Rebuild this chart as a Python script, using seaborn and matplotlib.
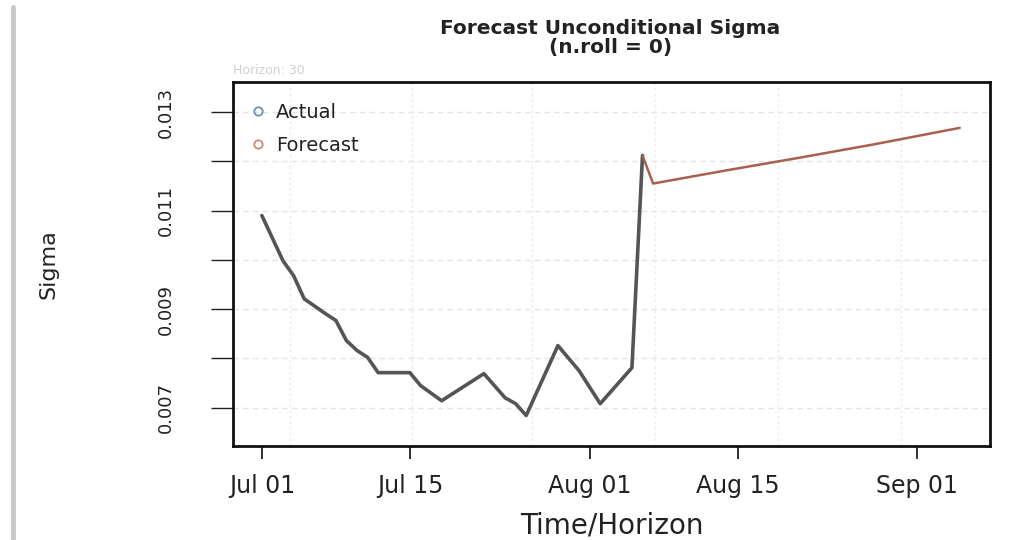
import numpy as np
import pandas as pd
import matplotlib
matplotlib.use("Agg")
import matplotlib.pyplot as plt
import matplotlib.dates as mdates
from matplotlib.lines import Line2D
from matplotlib.ticker import FixedLocator, FuncFormatter
import seaborn as sns

# ========================
# DATA
# ========================
actual_dates = ["2019-07-01", "2019-07-03", "2019-07-04", "2019-07-05", "2019-07-07",
                "2019-07-08", "2019-07-09", "2019-07-10", "2019-07-11", "2019-07-12",
                "2019-07-15", "2019-07-16", "2019-07-18", "2019-07-22", "2019-07-24",
                "2019-07-25", "2019-07-26", "2019-07-29", "2019-07-31", "2019-08-02",
                "2019-08-05", "2019-08-06"]
actual_sigma = [0.01090, 0.00998, 0.00968, 0.00921, 0.00891,
                0.00877, 0.00836, 0.00816, 0.00802, 0.00771,
                0.00771, 0.00745, 0.00714, 0.00769, 0.00720,
                0.00708, 0.00684, 0.00826, 0.00775, 0.00708,
                0.00781, 0.01212]

forecast_dates = ["2019-08-06", "2019-08-07", "2019-08-14", "2019-08-21",
                  "2019-08-28", "2019-09-05"]
forecast_sigma = [0.01212, 0.01155, 0.01182, 0.01208, 0.01235, 0.01268]

x_tick_dates = ["2019-07-01", "2019-07-15", "2019-08-01", "2019-08-15", "2019-09-01"]
x_tick_labels = ["Jul 01", "Jul 15", "Aug 01", "Aug 15", "Sep 01"]
y_ticks = [0.007, 0.008, 0.009, 0.010, 0.011, 0.012, 0.013]
y_labelled = [0.007, 0.009, 0.011, 0.013]
grid_dates = ["2019-07-03 16:00", "2019-07-15 05:00", "2019-07-26 14:00",
              "2019-08-07 05:00", "2019-08-18 20:00", "2019-08-30 10:00"]

df_act = pd.DataFrame({"date": pd.to_datetime(actual_dates), "sigma": actual_sigma})
df_fc = pd.DataFrame({"date": pd.to_datetime(forecast_dates), "sigma": forecast_sigma})

# ========================
# STYLE
# ========================
sns.set_style("white")
plt.rcParams["font.family"] = ["DejaVu Sans"]

fig = plt.figure(figsize=(10.21, 5.40), dpi=100)
ax = fig.add_axes([0.228, 0.174, 0.742, 0.674])

act_col = "#555555"
fc_col = "#a8604f"

sns.lineplot(data=df_act, x="date", y="sigma", ax=ax, color=act_col, lw=2.6)
sns.lineplot(data=df_fc, x="date", y="sigma", ax=ax, color=fc_col, lw=1.8)

ax.set_xlim(mdates.date2num(pd.Timestamp("2019-07-01")) - 2.75,
            mdates.date2num(pd.Timestamp("2019-07-01")) + 68.9)
ax.set_ylim(0.00622, 0.01361)

# grid
for v in y_ticks:
    ax.axhline(v, color="#e4e4e4", lw=1.0, ls=(0, (4, 3)), zorder=0)
for g in grid_dates:
    ax.axvline(pd.Timestamp(g), color="#ececec", lw=1.0, ls=(0, (2, 2)), zorder=0)

# ticks
ax.xaxis.set_major_locator(FixedLocator(mdates.date2num(pd.to_datetime(x_tick_dates))))
ax.set_xticklabels(x_tick_labels)
ax.yaxis.set_major_locator(FixedLocator(y_ticks))
ax.yaxis.set_major_formatter(FuncFormatter(
    lambda v, p: f"{v:.3f}" if any(abs(v - t) < 1e-9 for t in y_labelled) else ""))
ax.tick_params(axis="x", direction="out", length=9, width=1.3, color="#222222",
               pad=11, labelsize=17, labelcolor="#222222")
ax.tick_params(axis="y", direction="out", length=16, width=1.0, color="#222222",
               pad=26, labelsize=13, labelcolor="#222222")
for lab in ax.get_yticklabels():
    lab.set_rotation(90)
    lab.set_va("center")
ax.tick_params(axis="both", which="both", bottom=True, left=True)

for s in ax.spines.values():
    s.set_visible(True)
    s.set_color("#111111")
    s.set_linewidth(2.0)

ax.set_xlabel("Time/Horizon", fontsize=20, color="#222222", labelpad=10)
ax.set_ylabel("Sigma", fontsize=16, color="#222222")
ax.yaxis.set_label_coords(-0.23, 0.5)

fig.text(0.598, 0.93, "Forecast Unconditional Sigma\n(n.roll = 0)",
         ha="center", va="center", fontsize=14.5, fontweight="bold",
         color="#222222", linespacing=1.0)
fig.text(0.228, 0.858, "Horizon: 30", ha="left", va="bottom",
         fontsize=9, color="#d0d0d0")

# legend with open circles
handles = [Line2D([], [], ls="none", marker="o", mfc="none", mec="#6d8fb3", ms=6, mew=1.3),
           Line2D([], [], ls="none", marker="o", mfc="none", mec="#c98a7a", ms=6, mew=1.3)]
ax.legend(handles, ["Actual", "Forecast"], loc="upper left", frameon=False,
          fontsize=14, handletextpad=0.3, labelspacing=0.75, handlelength=1.2,
          borderaxespad=0.0, bbox_to_anchor=(0.008, 0.965), labelcolor="#222222")

# grey bar at the left edge of the screenshot
fig.add_artist(Line2D([0.0125, 0.0125], [0.0, 0.987], transform=fig.transFigure,
                      color="#c8c8c8", lw=3.5))

fig.savefig("out.png", dpi=100)
